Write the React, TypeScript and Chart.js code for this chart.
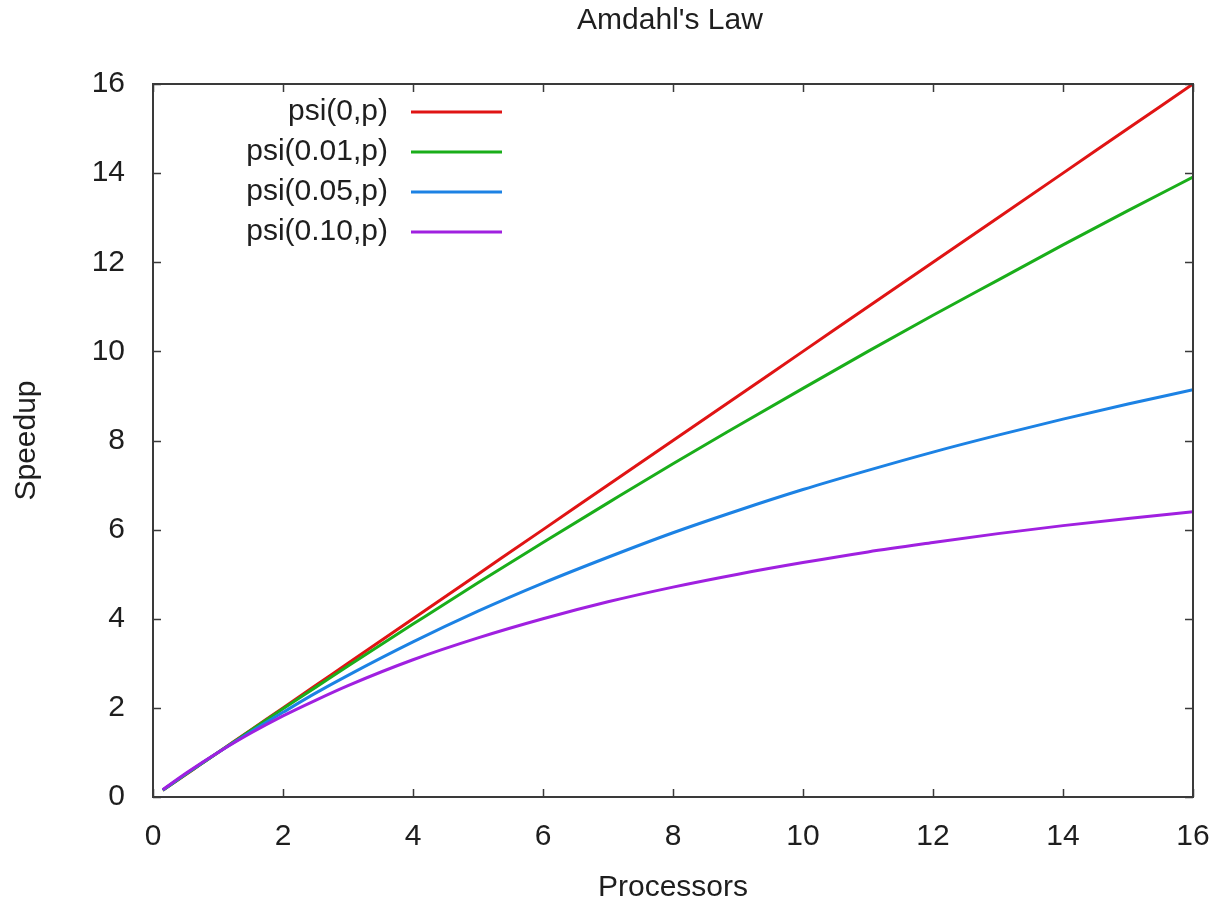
import React, { useEffect, useRef } from "react";
import { Chart, registerables } from "chart.js";

Chart.register(...registerables);

// Data
const processors = [0.15, 0.5, 0.75, 1, 1.5, 2, 2.5, 3, 4, 5, 6, 7, 8, 9, 10, 11, 12, 13, 14, 15, 16];
const psi000 = [0.15, 0.5, 0.75, 1, 1.5, 2, 2.5, 3, 4, 5, 6, 7, 8, 9, 10, 11, 12, 13, 14, 15, 16];
const psi001 = [0.151, 0.503, 0.752, 1, 1.49, 1.98, 2.46, 2.94, 3.88, 4.81, 5.71, 6.6, 7.48, 8.33, 9.17, 10.0, 10.81, 11.6, 12.39, 13.16, 13.91];
const psi005 = [0.157, 0.513, 0.759, 1, 1.46, 1.9, 2.33, 2.73, 3.48, 4.17, 4.8, 5.38, 5.93, 6.43, 6.9, 7.33, 7.74, 8.12, 8.48, 8.82, 9.14];
const psi010 = [0.164, 0.526, 0.769, 1, 1.43, 1.82, 2.17, 2.5, 3.08, 3.57, 4.0, 4.38, 4.71, 5.0, 5.26, 5.5, 5.71, 5.91, 6.09, 6.25, 6.4];

const seriesLabels = ["psi(0,p)", "psi(0.01,p)", "psi(0.05,p)", "psi(0.10,p)"];
const seriesValues = [psi000, psi001, psi005, psi010];
const seriesColors = ["#e01414", "#1aae1a", "#1c82e4", "#a020e0"];

const xTickValues = [0, 2, 4, 6, 8, 10, 12, 14, 16];
const yTickValues = [0, 2, 4, 6, 8, 10, 12, 14, 16];

const chartTitle = "Amdahl's Law";
const xTitle = "Processors";
const yTitle = "Speedup";

const FONT = "'Liberation Sans', Arial, sans-serif";
const FONT_SIZE = 30;
const TEXT_COLOR = "#1e1e1e";
const FRAME_COLOR = "#3a3a3a";

const framePlugin = {
  id: "gnuplotFrame",
  afterDatasetsDraw(chart: any) {
    const { ctx, chartArea, scales } = chart;
    const { left, right, top, bottom } = chartArea;
    ctx.save();
    ctx.strokeStyle = FRAME_COLOR;
    ctx.lineWidth = 2;
    ctx.strokeRect(left, top, right - left, bottom - top);
    ctx.lineWidth = 1.5;
    const tl = 8;
    ctx.beginPath();
    for (const v of xTickValues) {
      const x = Math.round(scales.x.getPixelForValue(v)) + 0.5;
      ctx.moveTo(x, bottom);
      ctx.lineTo(x, bottom - tl);
      ctx.moveTo(x, top);
      ctx.lineTo(x, top + tl);
    }
    for (const v of yTickValues) {
      const y = Math.round(scales.y.getPixelForValue(v)) + 0.5;
      ctx.moveTo(left, y);
      ctx.lineTo(left + tl, y);
      ctx.moveTo(right, y);
      ctx.lineTo(right - tl, y);
    }
    ctx.stroke();
    ctx.restore();
  },
};

const textPlugin = {
  id: "gnuplotText",
  afterDraw(chart: any) {
    const { ctx, chartArea } = chart;
    ctx.save();
    ctx.font = `${FONT_SIZE}px ${FONT}`;
    ctx.textBaseline = "middle";
    // title
    ctx.fillStyle = TEXT_COLOR;
    ctx.textAlign = "center";
    ctx.fillText(chartTitle, (chartArea.left + chartArea.right) / 2 - 3, 21);
    // legend
    const textRight = 388;
    const lineStart = 411;
    const lineEnd = 502;
    const firstY = 112;
    const rowGap = 40;
    ctx.textAlign = "right";
    chart.data.datasets.forEach((ds: any, i: number) => {
      const y = firstY + i * rowGap;
      ctx.fillStyle = TEXT_COLOR;
      ctx.fillText(ds.label, textRight, y);
      ctx.strokeStyle = ds.borderColor;
      ctx.lineWidth = 3;
      ctx.beginPath();
      ctx.moveTo(lineStart, y);
      ctx.lineTo(lineEnd, y);
      ctx.stroke();
    });
    ctx.restore();
  },
};

export default function App() {
  const canvasRef = useRef<HTMLCanvasElement | null>(null);

  useEffect(() => {
    if (!canvasRef.current) return;
    const datasets = seriesLabels.map((label, i) => ({
      label,
      data: processors.map((p, j) => ({ x: p, y: seriesValues[i][j] })),
      borderColor: seriesColors[i],
      backgroundColor: seriesColors[i],
      borderWidth: 3,
      pointRadius: 0,
      fill: false,
      cubicInterpolationMode: "monotone" as const,
      order: seriesLabels.length - i,
    }));

    const chart = new Chart(canvasRef.current, {
      type: "line",
      data: { datasets },
      plugins: [framePlugin, textPlugin],
      options: {
        responsive: false,
        animation: false,
        layout: { padding: { left: 0, right: 21, top: 84, bottom: 0 } },
        plugins: {
          legend: { display: false },
          tooltip: { enabled: false },
          title: { display: false },
        },
        scales: {
          x: {
            type: "linear",
            min: 0,
            max: 16,
            afterFit: (scale: any) => {
              scale.height = 110;
              scale.paddingLeft = 0;
              scale.paddingRight = 0;
            },
            afterBuildTicks: (scale: any) => {
              scale.ticks = xTickValues.map((v) => ({ value: v }));
            },
            grid: { display: false, drawTicks: false },
            border: { display: false },
            ticks: {
              color: TEXT_COLOR,
              font: { family: FONT, size: FONT_SIZE },
              padding: 22,
              maxRotation: 0,
              autoSkip: false,
            },
            title: {
              display: true,
              text: xTitle,
              color: TEXT_COLOR,
              font: { family: FONT, size: FONT_SIZE },
              padding: { top: 0, bottom: 1 },
            },
          },
          y: {
            type: "linear",
            min: 0,
            max: 16,
            afterFit: (scale: any) => {
              scale.width = 153;
              scale.paddingTop = 0;
              scale.paddingBottom = 0;
            },
            afterBuildTicks: (scale: any) => {
              scale.ticks = yTickValues.map((v) => ({ value: v }));
            },
            grid: { display: false, drawTicks: false },
            border: { display: false },
            ticks: {
              color: TEXT_COLOR,
              font: { family: FONT, size: FONT_SIZE },
              padding: 28,
              autoSkip: false,
            },
            title: {
              display: true,
              text: yTitle,
              color: TEXT_COLOR,
              font: { family: FONT, size: FONT_SIZE },
              padding: { top: 9, bottom: 0 },
            },
          },
        },
      },
    });
    return () => chart.destroy();
  }, []);

  return (
    <div style={{ position: "absolute", left: 0, top: 0, width: 1214, height: 907, background: "#ffffff" }}>
      <canvas ref={canvasRef} width={1214} height={907} style={{ display: "block" }} />
    </div>
  );
}
